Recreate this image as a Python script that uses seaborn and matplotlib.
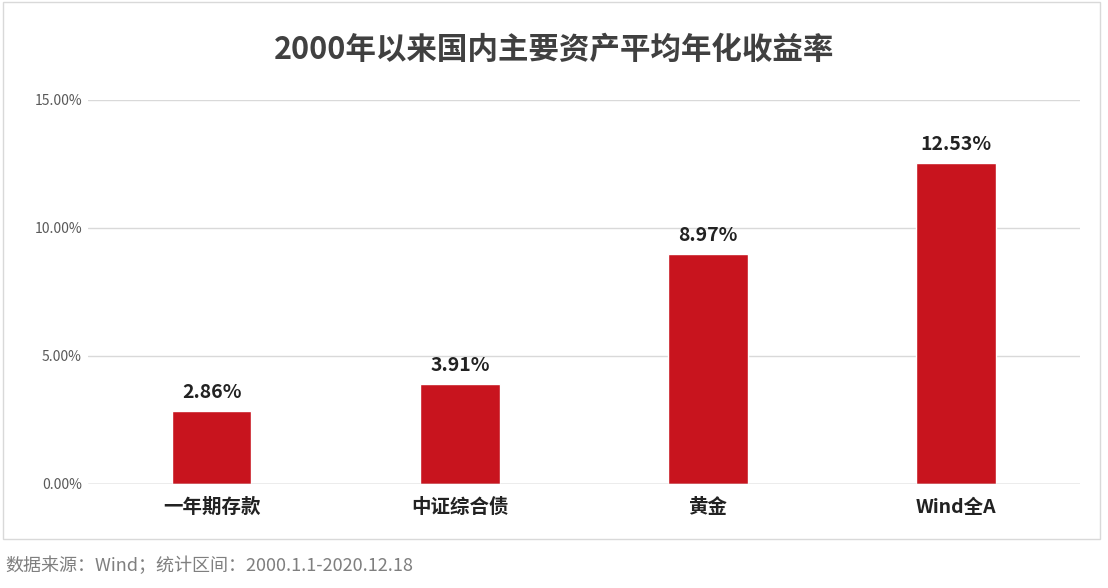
import matplotlib
matplotlib.use("Agg")
import matplotlib.pyplot as plt
import seaborn as sns
import pandas as pd
from matplotlib.patches import Rectangle

categories = ["一年期存款", "中证综合债", "黄金", "Wind全A"]
values = [2.86, 3.91, 8.97, 12.53]
yticks = [0, 5, 10, 15]
ytick_labels = ["0.00%", "5.00%", "10.00%", "15.00%"]

sns.set_theme(style="white")
plt.rcParams['font.family'] = ['Noto Sans CJK SC', 'DejaVu Sans']

df = pd.DataFrame({"cat": categories, "val": values})
fig = plt.figure(figsize=(11.08, 5.88), dpi=100)
ax = fig.add_axes([0.079, 0.177, 0.896, 0.653])
sns.barplot(data=df, x="cat", y="val", color="#C8141E", saturation=1, width=0.32, ax=ax, zorder=3)
ax.set_ylim(0, 15)
ax.set_xlim(-0.5, 3.5)
ax.set_yticks(yticks)
ax.set_yticklabels(ytick_labels, color="#595959", fontsize=10)
ax.yaxis.grid(True, color="#D9D9D9", linewidth=1, zorder=0)
ax.tick_params(axis="y", length=0, pad=4)
ax.tick_params(axis="x", length=0, pad=10, labelsize=14, labelcolor="#222222")
for lbl in ax.get_xticklabels():
    lbl.set_fontweight("bold")
for s in ax.spines.values():
    s.set_visible(False)
ax.axhline(0, color="#BFBFBF", linewidth=1, zorder=4)
ax.set_xlabel("")
ax.set_ylabel("")
for i, v in enumerate(values):
    ax.text(i, v + 0.35, f"{v:.2f}%", ha="center", va="bottom", fontsize=14,
            fontweight="bold", color="#222222")

fig.patches.append(Rectangle((0.003, 0.083), 0.990, 0.913, transform=fig.transFigure,
                             fill=False, edgecolor="#D9D9D9", linewidth=1))
fig.text(0.5, 0.915, "2000年以来国内主要资产平均年化收益率", ha="center", va="center",
         fontsize=22, fontweight="bold", color="#404040")
fig.text(0.005, 0.038, "数据来源：Wind；统计区间：2000.1.1-2020.12.18", ha="left", va="center",
         fontsize=13, color="#7F7F7F")
fig.savefig("out.png", dpi=100)
